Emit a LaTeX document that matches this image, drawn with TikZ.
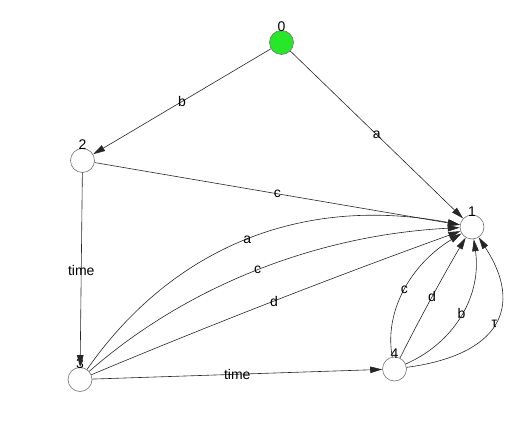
\documentclass[tikz,border=0pt]{standalone}
\usepackage{fontspec}
\setmainfont{Liberation Sans}
\usetikzlibrary{arrows.meta}
\definecolor{stgreen}{RGB}{40,230,40}
\tikzset{
  state/.style={circle, draw=black!55, line width=0.6pt, minimum size=24pt, inner sep=0pt, fill=white},
  startstate/.style={state, fill=stgreen},
  tr/.style={draw=black!85, line width=0.6pt, -{Triangle[length=12pt,width=6.5pt]}},
  el/.style={font=\fontsize{14}{16}\selectfont, inner sep=0pt, midway},
  nl/.style={font=\fontsize{14}{16}\selectfont, inner sep=0pt, yshift=15.5pt}
}
\begin{document}
\begin{tikzpicture}[x=1pt,y=-1pt]
\useasboundingbox (0,0) rectangle (527,427);
\node[startstate] (n0) at (281.5,42.5) {};
\node[state] (n1) at (472,227) {};
\node[state] (n2) at (82.5,160.5) {};
\node[state] (n3) at (80,379.5) {};
\node[state] (n4) at (394.5,369) {};
\node[nl] (l0) at (n0) {0};
\node[nl] (l1) at (n1) {1};
\node[nl] (l2) at (n2) {2};
\node[nl] (l3) at (n3) {3};
\node[nl] (l4) at (n4) {4};
\draw[tr] (n0) -- node[el]{b} (n2);
\draw[tr] (n0) -- node[el]{a} (n1);
\draw[tr] (n2) -- node[el]{c} (n1);
\draw[tr] (n2) -- node[el]{time} (n3);
\draw[tr] (n3) .. controls (173.3,245.8) and (304,195) .. node[el]{a} (n1);
\draw[tr] (n3) .. controls (186.7,285.8) and (317.3,235) .. node[el]{c} (n1);
\draw[tr] (n3) .. controls (208,325.8) and (338.7,275) .. node[el]{d} (n1);
\draw[tr] (n3) -- node[el]{time} (n4);
\draw[tr] (n4) .. controls (384,312.3) and (409.8,265) .. node[el]{c} (n1);
\draw[tr] (n4) .. controls (418.8,320.3) and (444.7,273) .. node[el]{d} (n1);
\draw[tr] (n4) .. controls (456,341.7) and (481.8,294.3) .. node[el]{b} (n1);
\draw[tr] (n4) .. controls (498.8,355) and (524.5,307.7) .. node[el]{τ} (n1);
\end{tikzpicture}
\end{document}
